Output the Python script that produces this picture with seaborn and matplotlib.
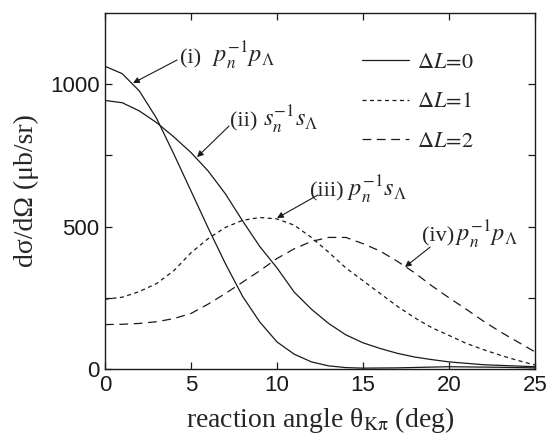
import numpy as np
import pandas as pd
import matplotlib
matplotlib.use("Agg")
import matplotlib.pyplot as plt
import seaborn as sns
from matplotlib.lines import Line2D

# ---- data ----
angle_i = [0, 1, 2, 3, 4, 5, 6, 7, 8, 9, 10, 11, 12, 13, 14, 15, 17, 20, 23, 25]
xs_i = [1063, 1037, 976, 880, 755, 625, 495, 370, 255, 165, 95, 52, 25, 11, 5, 3, 4, 8, 6, 4]

angle_ii = [0, 1, 2, 3, 4, 5, 6, 7, 8, 9, 10, 11, 12, 13, 14, 15, 16, 17, 18, 19, 20, 22, 25]
xs_ii = [943, 935, 906, 865, 815, 760, 695, 615, 520, 430, 355, 270, 210, 160, 120, 92, 72,
         55, 42, 33, 25, 15, 8]

angle_iii = list(range(0, 26))
xs_iii = [245, 252, 272, 300, 345, 408, 458, 497, 522, 532, 527, 505, 462, 410, 355, 310,
          265, 220, 180, 145, 118, 90, 68, 48, 30, 14]

angle_iv = list(range(0, 26))
xs_iv = [156, 157, 160, 166, 177, 195, 228, 265, 305, 345, 388, 422, 448, 462, 462, 440,
         414, 378, 338, 292, 250, 210, 168, 130, 95, 60]

legend_labels = [r'$\Delta L\!=\!0$', r'$\Delta L\!=\!1$', r'$\Delta L\!=\!2$']
ann_tags = ['(i)', '(ii)', '(iii)', '(iv)']
ann_maths = [r'$p_n^{-1}p_\Lambda$', r'$s_n^{-1}s_\Lambda$', r'$p_n^{-1}s_\Lambda$',
             r'$p_n^{-1}p_\Lambda$']
x_ticks = [0, 5, 10, 15, 20, 25]
y_ticks = [0, 250, 500, 750, 1000]
y_ticklabels = ['0', '', '500', '', '1000']

sns.set_theme(style='ticks')
plt.rcParams['font.family'] = ['Liberation Sans', 'DejaVu Sans']
plt.rcParams['mathtext.fontset'] = 'stix'

fig = plt.figure(figsize=(5.48, 4.38), dpi=100)
ax = fig.add_axes([105/548, 1-369/438, 430/548, 356/438])

short_dash = (3.2, 2.8)
long_dash = (7.0, 4.5)
lw = 0.9

series = [
    (angle_i, xs_i, None),
    (angle_ii, xs_ii, None),
    (angle_iii, xs_iii, short_dash),
    (angle_iv, xs_iv, long_dash),
]
for xv, yv, dash in series:
    df = pd.DataFrame({'angle': xv, 'xs': yv})
    n_before = len(ax.lines)
    sns.lineplot(data=df, x='angle', y='xs', color='k', linewidth=lw, ax=ax)
    line = ax.lines[n_before]
    if dash is not None:
        line.set_dashes(dash)

ax.set_xlim(0, 25)
ax.set_ylim(0, 1250)
ax.set_xticks(x_ticks)
ax.set_yticks(y_ticks)
ax.set_yticklabels(y_ticklabels)
ax.tick_params(direction='in', length=5, width=0.9, labelsize=16, top=True, right=True,
               colors='k', pad=4)
for s in ax.spines.values():
    s.set_visible(True)
    s.set_linewidth(1.0)
    s.set_color('k')

serif = ['Liberation Serif', 'DejaVu Serif']
ax.set_xlabel(r'reaction angle θ$_{\mathrm{K\pi}}$ (deg)', fontsize=20,
              family=serif, labelpad=7)
ax.set_ylabel('dσ/dΩ (μb/sr)', fontsize=20, family=serif, labelpad=8)

# annotations: (tag x, math x, shared baseline y, arrow tip, arrow start)
arrowprops = dict(arrowstyle='-|>', color='k', lw=0.8, mutation_scale=9,
                  shrinkA=0, shrinkB=0)
tag_x = [4.36, 7.27, 11.92, 18.43]
math_x = [6.25, 9.2, 14.05, 20.35]
base_y = [1074, 850, 604, 446]
arrow_tip = [(1.63, 1004), (5.35, 744), (10.0, 530), (17.44, 358)]
arrow_start = [(4.19, 1085), (7.21, 853), (12.38, 611), (18.9, 428)]
for tag, mtxt, tx, mx, by, tip, st in zip(ann_tags, ann_maths, tag_x, math_x, base_y,
                                          arrow_tip, arrow_start):
    ax.annotate('', xy=tip, xytext=st, arrowprops=arrowprops)
    ax.text(tx, by, tag, fontsize=16, family=serif, ha='left', va='baseline')
    ax.text(mx, by, mtxt, fontsize=17.5, ha='left', va='baseline')

handles = [
    Line2D([], [], color='k', lw=lw),
    Line2D([], [], color='k', lw=lw, dashes=short_dash),
    Line2D([], [], color='k', lw=lw, dashes=long_dash),
]
leg = ax.legend(handles, legend_labels, loc='upper left', bbox_to_anchor=(0.597, 0.89),
                frameon=False, fontsize=16, handlelength=2.15, handletextpad=0.35,
                labelspacing=0.82, borderpad=0, borderaxespad=0)

fig.savefig('out.png', dpi=100)
